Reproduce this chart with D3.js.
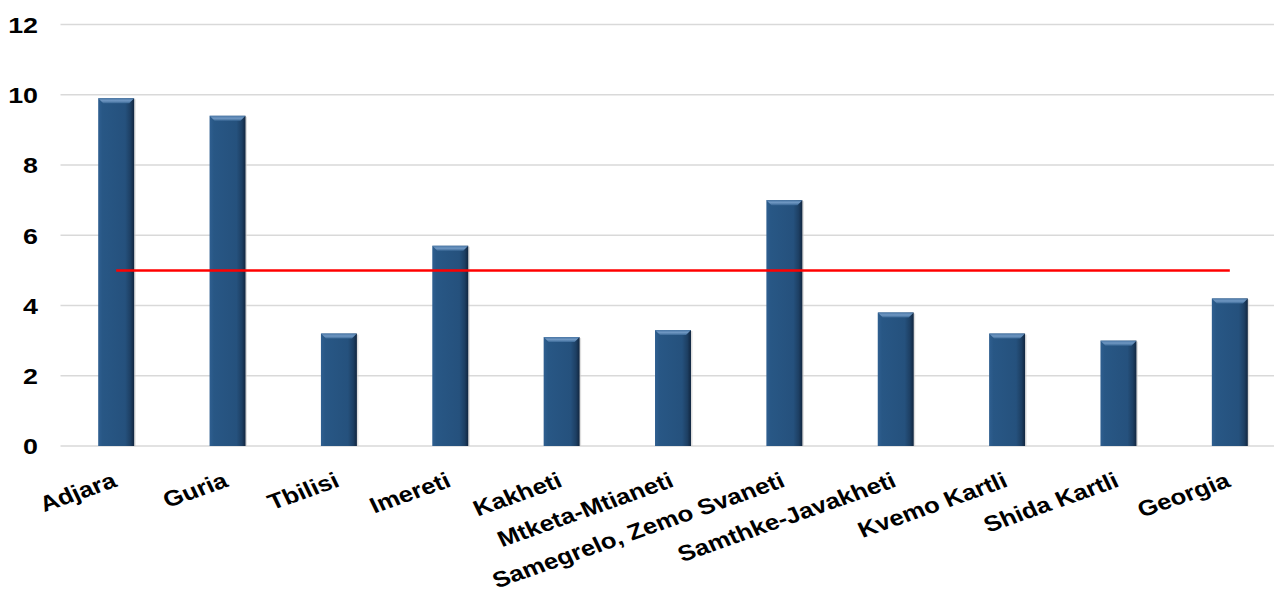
<!DOCTYPE html>
<html>
<head>
<meta charset="utf-8">
<script src="https://cdn.jsdelivr.net/npm/d3@7"></script>
<style>
  html, body { margin: 0; padding: 0; background: #ffffff; }
  svg { display: block; }
  text { font-family: "Liberation Sans", Arial, sans-serif; font-weight: bold; fill: #000; }
</style>
</head>
<body>
<svg id="chart" width="1274" height="596"></svg>
<script>
// Regions and their values
const regions = ["Adjara", "Guria", "Tbilisi", "Imereti", "Kakheti", "Mtketa-Mtianeti",
  "Samegrelo, Zemo Svaneti", "Samthke-Javakheti", "Kvemo Kartli", "Shida Kartli", "Georgia"];
const values = [9.9, 9.4, 3.2, 5.7, 3.1, 3.3, 7.0, 3.8, 3.2, 3.0, 4.2];
// Reference level drawn as a horizontal line
const referenceLevel = 5;
const yTicks = [0, 2, 4, 6, 8, 10, 12];

const svg = d3.select("#chart");
const plot = { left: 60.5, right: 1285.5, top: 24.5, bottom: 446 };
// Text is drawn slightly wide
const stretch = 1.17;

const x = d3.scaleBand()
  .domain(regions)
  .range([plot.left, plot.right])
  .paddingInner(0.677)
  .paddingOuter(0.3385);

const y = d3.scaleLinear()
  .domain([0, 12])
  .range([plot.bottom, plot.top]);

// Bar shading
const defs = svg.append("defs");
const body = defs.append("linearGradient").attr("id", "barBody")
  .attr("x1", "0").attr("x2", "1").attr("y1", "0").attr("y2", "0");
body.append("stop").attr("offset", "0").attr("stop-color", "#2f5f90");
body.append("stop").attr("offset", "0.12").attr("stop-color", "#285785");
body.append("stop").attr("offset", "0.75").attr("stop-color", "#25517d");
body.append("stop").attr("offset", "0.9").attr("stop-color", "#1d3f63");
body.append("stop").attr("offset", "1").attr("stop-color", "#112640");
const bevel = defs.append("linearGradient").attr("id", "barBevel")
  .attr("x1", "0").attr("x2", "0").attr("y1", "0").attr("y2", "1");
bevel.append("stop").attr("offset", "0").attr("stop-color", "#4a77a6");
bevel.append("stop").attr("offset", "0.5").attr("stop-color", "#6f97c2");
bevel.append("stop").attr("offset", "1").attr("stop-color", "#3a6896");

// Horizontal gridlines
svg.append("g")
  .attr("class", "grid")
  .selectAll("line")
  .data(yTicks)
  .join("line")
  .attr("x1", plot.left)
  .attr("x2", plot.right)
  .attr("y1", d => y(d))
  .attr("y2", d => y(d))
  .attr("stroke", "#d9d9d9")
  .attr("stroke-width", 1.5);

// Y-axis labels
const axisY = d3.axisLeft(y).tickValues(yTicks).tickSize(0).tickPadding(0);
const gy = svg.append("g")
  .attr("transform", "translate(38,0)")
  .call(axisY);
gy.select(".domain").remove();
gy.selectAll(".tick text")
  .attr("font-size", 22)
  .attr("font-family", "Liberation Sans, Arial, sans-serif")
  .attr("font-weight", "bold")
  .attr("fill", "#000")
  .attr("x", 0)
  .attr("dy", "0.36em")
  .attr("transform", `scale(${stretch + 0.05},1)`);

// Bars
const bars = svg.append("g").selectAll("g")
  .data(regions.map((r, i) => ({ region: r, value: values[i] })))
  .join("g");

bars.append("rect")
  .attr("x", d => x(d.region) + 1.5)
  .attr("y", d => y(d.value) + 1)
  .attr("width", x.bandwidth())
  .attr("height", d => y(0) - y(d.value) - 1)
  .attr("fill", "#c8c8c8")
  .attr("opacity", 0.6);

bars.append("rect")
  .attr("x", d => x(d.region))
  .attr("y", d => y(d.value))
  .attr("width", x.bandwidth())
  .attr("height", d => y(0) - y(d.value))
  .attr("fill", "url(#barBody)");

bars.append("path")
  .attr("d", d => {
    const x0 = x(d.region), x1 = x0 + x.bandwidth(), t = y(d.value), inset = 5;
    return `M${x0},${t} L${x1},${t} L${x1 - inset},${t + inset} L${x0 + inset},${t + inset} Z`;
  })
  .attr("fill", "url(#barBevel)");

// Reference line
svg.append("line")
  .attr("x1", x(regions[0]) + x.bandwidth() / 2)
  .attr("x2", x(regions[regions.length - 1]) + x.bandwidth() / 2)
  .attr("y1", y(referenceLevel))
  .attr("y2", y(referenceLevel))
  .attr("stroke", "#ff0000")
  .attr("stroke-width", 2.5);

// Rotated category labels
svg.append("g").selectAll("text")
  .data(regions)
  .join("text")
  .attr("text-anchor", "end")
  .attr("font-size", 22)
  .attr("transform", d => `translate(${x(d) + x.bandwidth() / 2 + 2},${y(0) + 40}) scale(${stretch},1) rotate(-22.5)`)
  .text(d => d);
</script>
</body>
</html>
